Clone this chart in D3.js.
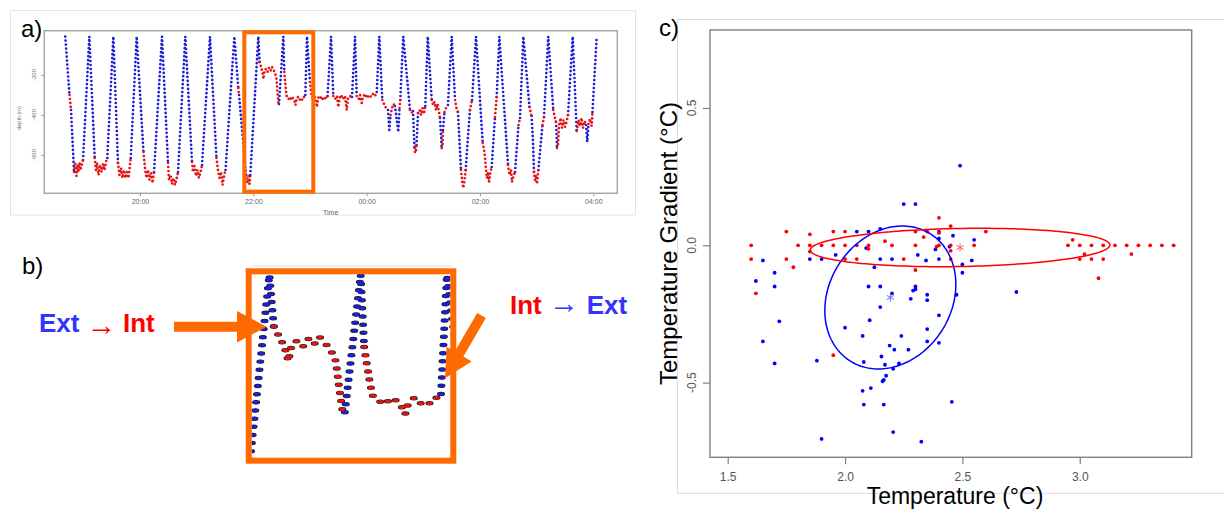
<!DOCTYPE html>
<html><head><meta charset="utf-8">
<script src="https://cdn.jsdelivr.net/npm/d3@7/dist/d3.min.js"></script>
<style>
html,body{margin:0;padding:0;background:#fff;}
svg{display:block;}
text{font-family:"Liberation Sans",Arial,Helvetica,sans-serif;}
</style></head><body>
<svg id="fig" width="1224" height="510" xmlns="http://www.w3.org/2000/svg"></svg>
<script>
// ===================== DATA =====================
// Panel a: dive profile vertices [minutes after 18:00, depth (m), state of following segment: E = exterior, I = interior]
const dive01 = [[40.9,-8,"E"],[45.4,-300,"I"],[47.0,-375,"E"],[50.2,-685,"I"],[51.7,-645,"I"],[52.8,-705,"I"],[53.9,-650,"I"],[54.9,-685,"I"],[56.0,-640,"I"],[57.0,-675,"I"],[58.1,-655,"I"],[59.7,-625,"E"]];
const dive02 = [[66.4,-8,"E"],[72.1,-615,"I"],[73.4,-675,"I"],[74.5,-640,"I"],[76.1,-700,"I"],[77.7,-650,"I"],[79.3,-685,"I"],[80.9,-645,"I"],[82.4,-675,"I"],[84.0,-635,"I"],[85.4,-615,"E"]];
const dive03 = [[91.8,-8,"E"],[96.7,-640,"I"],[98.3,-700,"I"],[99.9,-665,"I"],[101.5,-715,"I"],[103.1,-675,"I"],[104.7,-715,"I"],[106.3,-685,"I"],[107.9,-715,"I"],[109.4,-650,"I"],[110.2,-615,"E"]];
const dive04 = [[116.5,-8,"E"],[123.7,-585,"I"],[125.3,-665,"I"],[126.9,-715,"I"],[128.5,-675,"I"],[130.1,-725,"I"],[131.7,-690,"I"],[133.3,-740,"I"],[134.9,-685,"E"]];
const dive05 = [[143.3,-8,"E"],[149.7,-640,"I"],[150.7,-725,"I"],[152.3,-700,"I"],[153.9,-745,"I"],[155.5,-715,"I"],[157.1,-750,"I"],[158.7,-720,"I"],[160.3,-685,"E"]];
const dive06 = [[168.0,-8,"E"],[175.1,-635,"I"],[176.1,-685,"I"],[177.7,-655,"I"],[179.3,-705,"I"],[180.9,-675,"I"],[182.5,-715,"I"],[184.1,-685,"I"],[185.7,-650,"E"]];
const dive07 = [[194.1,-8,"E"],[201.0,-615,"I"],[202.6,-675,"I"],[204.2,-715,"I"],[205.8,-685,"I"],[207.4,-750,"I"],[209.0,-705,"I"],[210.6,-675,"E"]];
const dive08 = [[219.9,-8,"E"],[224.1,-265,"I"],[224.9,-300,"E"],[232.6,-715,"I"],[233.9,-740,"I"],[234.9,-705,"I"],[236.0,-745,"I"],[236.8,-700,"E"]];
const dive09 = [[245.3,-8,"E"],[246.6,-135,"I"],[248.2,-160,"I"],[249.7,-185,"I"],[250.8,-220,"I"],[251.9,-175,"I"],[253.4,-170,"I"],[255.0,-185,"I"],[256.6,-165,"I"],[258.2,-180,"I"],[259.8,-160,"I"],[261.4,-175,"I"],[263.0,-190,"I"],[264.6,-220,"I"],[265.4,-275,"I"],[266.5,-340,"I"],[267.2,-345,"E"]];
const dive10 = [[271.8,-8,"E"],[272.8,-185,"I"],[274.5,-275,"I"],[275.5,-310,"I"],[277.3,-320,"I"],[278.9,-310,"I"],[280.4,-325,"I"],[282.0,-315,"I"],[283.6,-330,"I"],[284.7,-350,"I"],[285.7,-320,"I"],[287.3,-310,"I"],[288.9,-325,"I"],[290.5,-315,"I"],[292.1,-325,"I"],[293.7,-310,"I"],[295.1,-300,"E"]];
const dive11 = [[296.8,-8,"E"],[300.0,-235,"I"],[301.6,-300,"I"],[303.2,-320,"I"],[305.3,-310,"I"],[307.4,-360,"I"],[308.5,-315,"I"],[310.6,-305,"I"],[312.7,-325,"I"],[314.9,-310,"I"],[317.0,-320,"I"],[318.6,-305,"E"]];
const dive12 = [[322.3,-8,"E"],[324.7,-305,"I"],[326.5,-320,"I"],[328.6,-305,"I"],[330.0,-360,"I"],[331.3,-315,"I"],[332.9,-300,"I"],[335.0,-320,"I"],[337.1,-305,"I"],[338.9,-375,"I"],[340.3,-315,"I"],[342.4,-305,"I"],[344.5,-310,"E"]];
const dive13 = [[347.7,-8,"E"],[349.5,-305,"I"],[351.4,-320,"I"],[353.0,-300,"I"],[354.8,-340,"I"],[356.1,-310,"I"],[358.3,-295,"I"],[360.4,-315,"I"],[362.5,-300,"I"],[364.6,-310,"I"],[366.7,-295,"I"],[368.9,-305,"I"],[370.7,-285,"E"]];
const dive14 = [[373.4,-8,"E"],[376.6,-325,"I"],[378.4,-345,"I"],[380.5,-365,"I"],[382.6,-375,"E"],[384.0,-475,"E"],[385.3,-400,"I"],[386.9,-365,"I"],[388.4,-345,"I"],[390.0,-355,"E"],[393.5,-485,"E"],[394.8,-365,"I"],[395.6,-325,"E"]];
const dive15 = [[398.8,-8,"E"],[405.9,-375,"I"],[407.5,-390,"I"],[409.1,-380,"E"],[410.7,-565,"I"],[411.2,-590,"I"],[412.3,-575,"I"],[412.8,-550,"E"],[414.4,-390,"I"],[416.0,-375,"I"],[417.6,-400,"I"],[419.1,-365,"I"],[420.7,-395,"I"],[422.1,-355,"E"]];
const dive16 = [[424.7,-8,"E"],[428.9,-325,"I"],[430.3,-350,"I"],[431.9,-335,"I"],[433.4,-375,"I"],[435.0,-345,"I"],[436.6,-385,"I"],[437.7,-415,"E"],[439.5,-565,"I"],[440.3,-550,"I"],[440.9,-475,"E"],[442.4,-385,"I"],[444.0,-365,"I"],[446.1,-350,"E"]];
const dive17 = [[450.1,-8,"E"],[453.6,-325,"I"],[455.1,-365,"I"],[456.7,-385,"E"],[459.9,-675,"I"],[461.0,-725,"I"],[462.3,-765,"I"],[463.4,-735,"I"],[464.9,-675,"E"],[467.6,-490,"E"],[469.4,-375,"I"],[471.6,-325,"E"]];
const dive18 = [[475.8,-8,"E"],[482.9,-540,"I"],[484.3,-575,"I"],[485.3,-610,"I"],[486.4,-675,"I"],[487.4,-715,"I"],[488.5,-685,"I"],[489.6,-735,"I"],[490.6,-700,"I"],[492.4,-660,"E"],[495.9,-410,"I"],[497.7,-310,"E"]];
const dive19 = [[500.5,-8,"E"],[509.7,-650,"I"],[511.3,-700,"I"],[512.9,-675,"I"],[513.9,-735,"I"],[515.5,-705,"I"],[517.1,-685,"E"],[520.8,-450,"I"],[522.4,-415,"E"]];
const dive20 = [[525.9,-8,"E"],[532.4,-360,"I"],[534.6,-405,"E"],[536.1,-525,"E"],[537.2,-685,"I"],[538.3,-725,"I"],[539.3,-700,"I"],[540.4,-745,"I"],[541.8,-675,"E"],[546.2,-450,"I"],[547.8,-410,"E"]];
const dive21 = [[552.3,-8,"E"],[557.6,-375,"I"],[559.4,-415,"I"],[560.5,-435,"E"],[561.6,-565,"I"],[562.6,-550,"I"],[563.7,-450,"I"],[565.3,-415,"I"],[566.9,-465,"I"],[568.4,-425,"I"],[570.0,-460,"I"],[571.6,-435,"I"],[573.2,-400,"E"]];
const dive22 = [[578.2,-8,"E"],[582.4,-480,"I"],[584.3,-425,"I"],[585.9,-455,"I"],[587.5,-415,"I"],[589.1,-465,"I"],[590.7,-430,"I"],[592.3,-450,"E"],[593.6,-535,"E"],[594.9,-445,"I"],[596.5,-420,"I"],[598.3,-455,"I"],[599.1,-385,"E"]];
const diveEnd = [[603.6,-8,"E"]];

const depthTicks = [-200, -400, -600];
const timeTickLabels = ["20:00", "22:00", "00:00", "02:00", "04:00"];

// Panel c: temperature vs temperature gradient
const extTemp = [2.49,2.25,2.30,2.05,2.10,2.15,2.40,2.46,2.40,2.55,2.09,1.96,2.385,2.445,1.65,1.85,1.90,2.15,2.20,2.345,2.40,2.54,2.31,2.125,1.70,2.50,2.50,1.62,1.70,2.10,2.15,2.30,2.30,2.29,2.35,2.28,2.35,2.20,2.475,2.73,2.15,2.40,1.72,2.105,2.00,2.35,1.65,2.075,2.24,2.35,2.40,2.19,2.21,2.27,1.70,1.88,2.08,2.155,2.17,2.23,2.205,2.175,2.165,2.16,2.075,2.11,2.08,2.165,2.455,2.205,1.90,2.325];
const extGrad = [0.29,0.15,0.15,0.05,0.05,0.06,0.05,0.035,0.025,0.02,-0.01,-0.035,-0.015,-0.005,-0.055,-0.05,-0.05,-0.05,-0.05,-0.055,-0.05,-0.055,-0.035,-0.08,-0.10,-0.07,-0.10,-0.13,-0.15,-0.15,-0.15,-0.15,-0.16,-0.165,-0.18,-0.195,-0.20,-0.175,-0.18,-0.17,-0.225,-0.255,-0.277,-0.273,-0.30,-0.305,-0.35,-0.33,-0.33,-0.35,-0.355,-0.365,-0.38,-0.38,-0.43,-0.42,-0.425,-0.405,-0.435,-0.43,-0.45,-0.475,-0.49,-0.495,-0.53,-0.52,-0.58,-0.58,-0.57,-0.68,-0.705,-0.715];
const intTemp = [2.40,2.45,1.75,1.85,1.95,2.00,2.30,2.35,2.40,2.60,2.97,2.17,2.335,
  1.60,1.80,1.85,1.90,1.95,2.00,2.05,2.10,2.20,2.30,2.40,2.45,2.55,2.95,3.00,3.05,3.10,3.15,3.20,3.25,3.30,3.35,3.40,
  1.85,2.10,2.39,2.45,
  1.60,1.75,2.00,2.05,2.25,2.45,3.00,3.05,3.10,
  3.02,3.22,1.78,2.30,3.08,1.62,1.95];
const intGrad = [0.10,0.07,0.05,0.04,0.05,0.05,0.05,0.05,0.045,0.05,0.02,0.015,0.03,
  0,0,0,0,0,0,0,0,0,0,0,0,0,0,0,0,0,0,0,0,0,0,0,
  -0.023,-0.013,-0.005,-0.02,
  -0.05,-0.05,-0.05,-0.05,-0.05,-0.05,-0.05,-0.05,-0.05,
  -0.032,-0.032,-0.08,-0.09,-0.12,-0.175,-0.40];
const intCentroid = [2.49, -0.008];
const extCentroid = [2.193, -0.19];
const intEllipseAxes = [[0.0831, 0.0699], [0.6328, 0]];   // conjugate semi-diameters
const extEllipseAxes = [[0.0511, 0.2603], [0.2744, 0]];
const cXTicks = [1.5, 2.0, 2.5, 3.0];
const cXTickLabels = ["1.5", "2.0", "2.5", "3.0"];
const cYTicks = [-0.5, 0.0, 0.5];
const cYTickLabels = ["-0.5", "0.0", "0.5"];

// ===================== DRAWING =====================
const BLUE_A = "#1e1ed4", RED_A = "#e21414", ORANGE = "#ff6a00";
const FONT = '"Liberation Sans", Arial, Helvetica, sans-serif';
const svg = d3.select("#fig");

// ---- panel a ----
const base = new Date(2000, 0, 1, 18, 0, 0);
const tOf = m => new Date(+base + m * 60000);
const xa = d3.scaleTime().domain([tOf(18.7), tOf(625.4)]).range([44.3, 617.3]);
const ya = d3.scaleLinear().domain([-791.5, 21.5]).range([193.3, 30.7]);
const timeTickVals = timeTickLabels.map(s => {
  const [h, m] = s.split(":").map(Number);
  let v = (h - 18) * 60 + m; if (v < 0) v += 1440;
  return tOf(v);
});

const verts = [].concat(dive01, dive02, dive03, dive04, dive05, dive06, dive07, dive08, dive09, dive10, dive11,
  dive12, dive13, dive14, dive15, dive16, dive17, dive18, dive19, dive20, dive21, dive22, diveEnd);
const runs = [];
{
  let cur = null;
  for (let i = 0; i < verts.length - 1; i++) {
    const s = verts[i][2];
    if (!cur || cur.s !== s) { cur = { s, pts: [verts[i]] }; runs.push(cur); }
    cur.pts.push(verts[i + 1]);
  }
}
const orderedRuns = runs.filter(r => r.s === "E").concat(runs.filter(r => r.s === "I"));

function drawTrace(g, x, y, outline) {
  const line = d3.line().x(d => x(tOf(d[0]))).y(d => y(d[1]));
  if (outline) {
    g.selectAll("path.o").data(orderedRuns).join("path").attr("class", "o")
      .attr("d", r => line(r.pts)).attr("fill", "none").attr("stroke", "#1a1a1a")
      .attr("stroke-width", 2.2).attr("stroke-linecap", "round").attr("stroke-dasharray", "0 4");
  }
  g.selectAll("path.c").data(orderedRuns).join("path").attr("class", "c")
    .attr("d", r => line(r.pts)).attr("fill", "none")
    .attr("stroke", r => r.s === "E" ? BLUE_A : RED_A)
    .attr("stroke-width", outline ? 1.75 : 2.7).attr("stroke-linecap", "round").attr("stroke-dasharray", "0 4");
}

svg.append("rect").attr("x", 10.5).attr("y", 10.5).attr("width", 625).attr("height", 204.5)
  .attr("fill", "none").attr("stroke", "#e3e3e3");
const ga = svg.append("g");
ga.append("rect").attr("x", 44.3).attr("y", 30.7).attr("width", 573).attr("height", 162.6)
  .attr("fill", "none").attr("stroke", "#a8a8a8").attr("stroke-width", 1.5);
const xAxA = ga.append("g").attr("transform", "translate(0,193.3)")
  .call(d3.axisBottom(xa).tickValues(timeTickVals).tickFormat((d, i) => timeTickLabels[i]).tickSize(3).tickPadding(3));
xAxA.select(".domain").remove();
xAxA.selectAll("line").attr("stroke", "#999");
xAxA.attr("font-family", FONT).attr("font-size", 7);
xAxA.selectAll("text").attr("fill", "#666");
const yAxA = ga.append("g").attr("transform", "translate(44.3,0)")
  .call(d3.axisLeft(ya).tickValues(depthTicks).tickSize(3).tickFormat(""));
yAxA.select(".domain").remove();
yAxA.selectAll("line").attr("stroke", "#999");
ga.selectAll("text.yl").data(depthTicks).join("text").attr("class", "yl")
  .attr("transform", d => `translate(35.5,${ya(d)}) rotate(-90)`)
  .attr("text-anchor", "middle").attr("font-size", 6).attr("fill", "#777").text(d => d);
ga.append("text").attr("transform", "translate(20.5,118) rotate(-90)").attr("text-anchor", "middle")
  .attr("font-size", 5.5).attr("fill", "#777").text("depth (m)");
ga.append("text").attr("x", 330.7).attr("y", 214.5).attr("text-anchor", "middle")
  .attr("font-size", 7).attr("fill", "#666").text("Time");
ga.append("g").call(drawTrace, xa, ya, false);
ga.append("rect").attr("x", 244.3).attr("y", 32.3).attr("width", 69).attr("height", 159.4)
  .attr("fill", "none").attr("stroke", ORANGE).attr("stroke-width", 4);
svg.append("text").attr("x", 21).attr("y", 36.5).attr("font-size", 24).attr("fill", "#000").text("a)");

// ---- panel b ----
svg.append("text").attr("x", 22).attr("y", 273.5).attr("font-size", 24).attr("fill", "#000").text("b)");
svg.append("defs").append("clipPath").attr("id", "clipB")
  .append("rect").attr("x", 251.7).attr("y", 262).attr("width", 198.6).attr("height", 195.7);
svg.append("line").attr("x1", 253).attr("x2", 452).attr("y1", 266).attr("y2", 266).attr("stroke", "#dddddd").attr("stroke-width", 1);
const gb = svg.append("g").attr("clip-path", "url(#clipB)");
gb.append("g").attr("transform", "translate(269.3,275) scale(3.65,2.04) translate(-258.3,-36.7)")
  .call(drawTrace, xa, ya, true);
svg.append("rect").attr("x", 248.7).attr("y", 271.3).attr("width", 204.6).attr("height", 189.4)
  .attr("fill", "none").attr("stroke", ORANGE).attr("stroke-width", 6);
// arrows
svg.append("polygon").attr("fill", ORANGE)
  .attr("points", "174,321.7 237,321.7 237,311 266.7,326.7 237,342.4 237,331.7 174,331.7");
svg.append("polygon").attr("fill", ORANGE)
  .attr("points", "485.8,318 463.4,356.6 471.6,361.4 445,378.3 446.6,346.8 454.8,351.6 477.2,313");
// labels
const ARROWFONT = '"DejaVu Sans", "Liberation Sans", sans-serif';
const bl = svg.append("g");
bl.append("text").attr("x", 39).attr("y", 331.7).attr("font-size", 26).attr("font-weight", "bold").attr("fill", "#3333ff").text("Ext");
bl.append("text").attr("x", 101.5).attr("y", 335).attr("text-anchor", "middle").attr("font-family", ARROWFONT).attr("font-size", 30).attr("fill", "#ff0000").text("→");
bl.append("text").attr("x", 123).attr("y", 331.7).attr("font-size", 26).attr("font-weight", "bold").attr("fill", "#ff0000").text("Int");
bl.append("text").attr("x", 510).attr("y", 314).attr("font-size", 26).attr("font-weight", "bold").attr("fill", "#ff0000").text("Int");
bl.append("text").attr("x", 564).attr("y", 312.5).attr("text-anchor", "middle").attr("font-family", ARROWFONT).attr("font-size", 30).attr("fill", "#3333ff").text("→");
bl.append("text").attr("x", 586.7).attr("y", 314).attr("font-size", 26).attr("font-weight", "bold").attr("fill", "#3333ff").text("Ext");

// ---- panel c ----
const xc = d3.scaleLinear().domain([1.4246, 3.477]).range([710, 1191.7]);
const yc = d3.scaleLinear().domain([-0.772, 0.784]).range([457.3, 30]);
const gc = svg.append("g");
gc.append("path").attr("d", "M677.5,19.5 L1224,19.5 M677.5,19.5 L677.5,493.3 L1224,493.3")
  .attr("fill", "none").attr("stroke", "#dcdcdc").attr("stroke-width", 1);
gc.append("rect").attr("x", 710).attr("y", 30).attr("width", 481.7).attr("height", 427.3)
  .attr("fill", "none").attr("stroke", "#808080").attr("stroke-width", 1.4);
const xAxC = gc.append("g").attr("transform", "translate(0,457.3)")
  .call(d3.axisBottom(xc).tickValues(cXTicks).tickFormat((d, i) => cXTickLabels[i]).tickSize(7).tickPadding(8));
xAxC.select(".domain").remove();
xAxC.selectAll("line").attr("stroke", "#808080").attr("stroke-width", 1.2);
xAxC.attr("font-family", FONT).attr("font-size", 12);
xAxC.selectAll("text").attr("fill", "#555");
const yAxC = gc.append("g").attr("transform", "translate(710,0)")
  .call(d3.axisLeft(yc).tickValues(cYTicks).tickSize(7).tickFormat(""));
yAxC.select(".domain").remove();
yAxC.selectAll("line").attr("stroke", "#808080").attr("stroke-width", 1.2);
gc.selectAll("text.cy").data(cYTicks).join("text").attr("class", "cy")
  .attr("transform", d => `translate(696,${yc(d)}) rotate(-90)`).attr("text-anchor", "middle")
  .attr("font-size", 12).attr("fill", "#555").text((d, i) => cYTickLabels[i]);

gc.selectAll("circle.ext").data(extTemp.map((t, i) => [t, extGrad[i]])).join("circle").attr("class", "ext")
  .attr("cx", d => xc(d[0])).attr("cy", d => yc(d[1])).attr("r", 1.9).attr("fill", "#0000ff");
gc.selectAll("circle.int").data(intTemp.map((t, i) => [t, intGrad[i]])).join("circle").attr("class", "int")
  .attr("cx", d => xc(d[0])).attr("cy", d => yc(d[1])).attr("r", 1.9).attr("fill", "#ff0000");

function ellipsePts(c, ax) {
  return d3.range(0, 360, 2).map(a => {
    const t = a * Math.PI / 180;
    return [c[0] + ax[0][0] * Math.cos(t) + ax[1][0] * Math.sin(t), c[1] + ax[0][1] * Math.cos(t) + ax[1][1] * Math.sin(t)];
  });
}
const eLine = d3.line().x(d => xc(d[0])).y(d => yc(d[1])).curve(d3.curveLinearClosed);
gc.append("path").attr("d", eLine(ellipsePts(extCentroid, extEllipseAxes))).attr("fill", "none").attr("stroke", "#0000ff").attr("stroke-width", 1.5);
gc.append("path").attr("d", eLine(ellipsePts(intCentroid, intEllipseAxes))).attr("fill", "none").attr("stroke", "#ff0000").attr("stroke-width", 1.5);
const star = d3.symbol(d3.symbolAsterisk, 48);
gc.append("path").attr("d", star()).attr("transform", `translate(${xc(intCentroid[0])},${yc(intCentroid[1])})`)
  .attr("fill", "none").attr("stroke", "#ff5050").attr("stroke-width", 1);
gc.append("path").attr("d", star()).attr("transform", `translate(${xc(extCentroid[0])},${yc(extCentroid[1])})`)
  .attr("fill", "none").attr("stroke", "#6a6aff").attr("stroke-width", 1);

gc.append("text").attr("x", 955).attr("y", 504).attr("text-anchor", "middle").attr("font-size", 23).attr("fill", "#000").text("Temperature (°C)");
gc.append("text").attr("transform", "translate(677,243.5) rotate(-90)").attr("text-anchor", "middle").attr("font-size", 24).attr("fill", "#000").text("Temperature Gradient (°C)");
svg.append("text").attr("x", 659).attr("y", 36).attr("font-size", 24).attr("fill", "#000").text("c)");
</script></body></html>
